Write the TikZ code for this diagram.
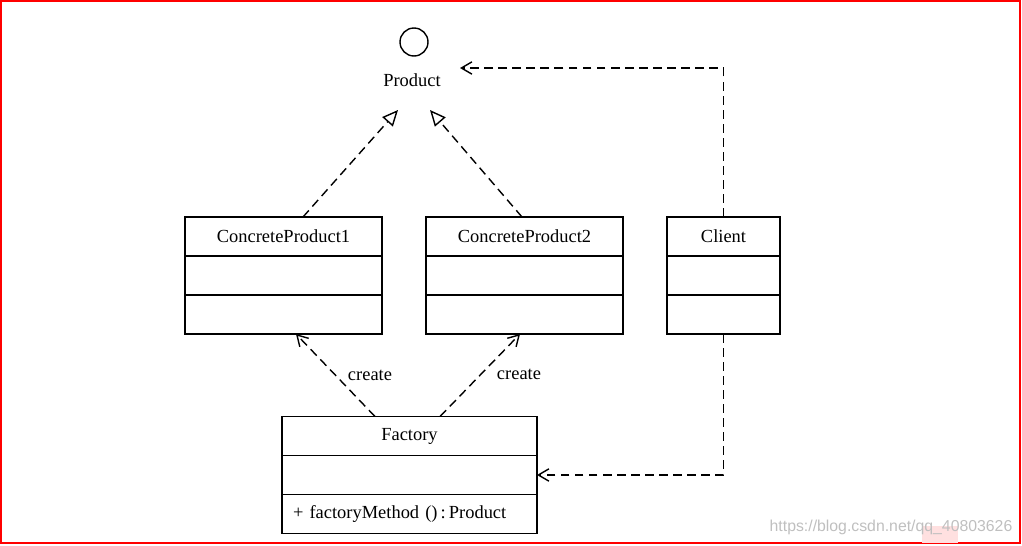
\documentclass[tikz,border=0pt]{standalone}
\usepackage{fontspec}
\setmainfont{Liberation Serif}
\newfontfamily\wmfont{Liberation Sans}
\usetikzlibrary{arrows.meta,positioning}

\tikzset{
  classpart/.style={draw, line width=0.8pt, minimum height=0.78cm, inner sep=0pt,
    outer sep=0pt, font=\fontsize{10.5}{12}\selectfont},
  realize/.style={line width=0.8pt, dash pattern=on 5pt off 3pt,
    -{Triangle[open,length=9pt,width=8pt]}},
  depend/.style={line width=0.8pt, dash pattern=on 5pt off 3pt,
    -{Straight Barb[length=6pt,width=7pt]}},
  lbl/.style={font=\fontsize{10.5}{12}\selectfont, inner sep=1pt},
}

\begin{document}
\begin{tikzpicture}[x=0.02cm, y=-0.02cm]

\useasboundingbox (0,0) rectangle (1022,545);
\draw[red, line width=1.2pt] (1,1) rectangle (1020,543);

% interface
\node[draw, circle, line width=0.8pt, minimum size=0.56cm, inner sep=0pt] (prodcirc) at (414,42) {};
\node[lbl] (prod) at (412,80) {Product};
\coordinate (prodin1) at (398,110);
\coordinate (prodin2) at (430,110);
\coordinate (prodin3) at (460,68);

% classes
\node[classpart, minimum width=3.94cm] (cp1) at (283.5,236.5) {ConcreteProduct1};
\node[classpart, minimum width=3.94cm, below=0pt of cp1] (cp1a) {};
\node[classpart, minimum width=3.94cm, below=0pt of cp1a] (cp1b) {};

\node[classpart, minimum width=3.94cm] (cp2) at (524.5,236.5) {ConcreteProduct2};
\node[classpart, minimum width=3.94cm, below=0pt of cp2] (cp2a) {};
\node[classpart, minimum width=3.94cm, below=0pt of cp2a] (cp2b) {};

\node[classpart, minimum width=2.26cm] (cl) at (723.5,236.5) {Client};
\node[classpart, minimum width=2.26cm, below=0pt of cl] (cla) {};
\node[classpart, minimum width=2.26cm, below=0pt of cla] (clb) {};

\node[classpart, minimum width=5.1cm] (fac) at (409.5,436) {Factory};
\node[classpart, minimum width=5.1cm, below=0pt of fac] (faca) {};
\node[classpart, text width=4.66cm, inner xsep=0.22cm, align=left, below=0pt of faca] (facb) {+ factoryMethod ()\,:\,Product};

% connectors
\draw[realize] ([xshift=0.39cm]cp1.north) -- (prodin1);
\draw[realize] ([xshift=-0.05cm]cp2.north) -- (prodin2);
\draw[depend] (cl.north) |- (prodin3);
\draw[depend] (clb.south) |- (faca.east);
\draw[depend] ([xshift=-0.69cm]fac.north) -- ([xshift=0.25cm]cp1b.south);
\draw[depend] ([xshift=0.61cm]fac.north) -- ([xshift=-0.09cm]cp2b.south);
\node[lbl] (cr1) at (370,375) {create};
\node[lbl] (cr2) at (519,374) {create};

% watermark
\fill[red!12] (922,526) rectangle (958,543);
\node[font=\wmfont\fontsize{9}{10}\selectfont, text=black!25] (wm) at (891,527) {https://blog.csdn.net/qq\_40803626};

\end{tikzpicture}
\end{document}
